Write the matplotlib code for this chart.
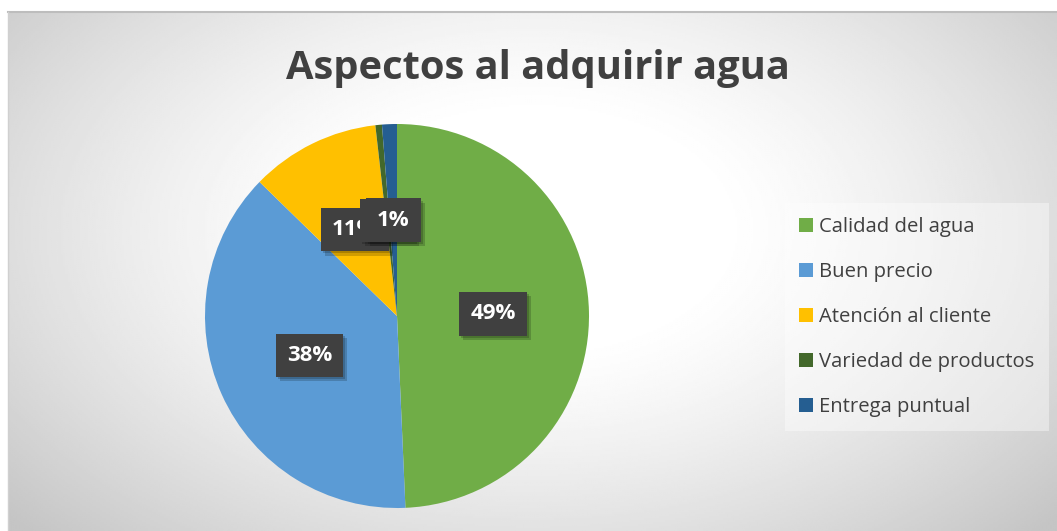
import numpy as np
import matplotlib
matplotlib.use('Agg')
import matplotlib.pyplot as plt
import matplotlib.patheffects as pe

# Data
categories = ["Calidad del agua", "Buen precio", "Atención al cliente",
              "Variedad de productos", "Entrega puntual"]
shares = [49.3, 38.0, 10.9, 0.55, 1.25]
colors = ["#70AD47", "#5B9BD5", "#FFC000", "#43682B", "#255E91"]
title_text = "Aspectos al adquirir agua"

plt.rcParams['font.family'] = ['Open Sans', 'DejaVu Sans']

W, H = 1057, 531
fig = plt.figure(figsize=(W / 100, H / 100), dpi=100, facecolor='white')

# Chart area background: radial grey gradient (Excel style)
bg_left, bg_top = 8, 12
bg = fig.add_axes([bg_left / W, 0, 1 - bg_left / W, (H - bg_top) / H])
ny, nx = 260, 520
yy, xx = np.mgrid[0:1:ny * 1j, 0:1:nx * 1j]
d = np.sqrt(((xx - 0.5) / 0.5) ** 2 + ((yy - 0.42) / 0.62) ** 2)
shade = 1 - 0.23 * np.clip((d - 0.35) / 1.0, 0, 1) ** 1.3
bg.imshow(shade, cmap='gray', vmin=0, vmax=1, aspect='auto',
          extent=[0, 1, 0, 1], origin='upper')
bg.set_xlim(0, 1)
bg.set_ylim(0, 1)
bg.axis('off')
fig.lines.append(plt.Line2D([bg_left / W, 1], [1 - bg_top / H] * 2,
                            transform=fig.transFigure, color='#bdbdbd', lw=1.5))
fig.lines.append(plt.Line2D([bg_left / W] * 2, [0, 1 - bg_top / H],
                            transform=fig.transFigure, color='#d0d0d0', lw=1))

# Pie
cx, cy, r = 397, 316, 192
ax = fig.add_axes([(cx - r) / W, (H - cy - r) / H, 2 * r / W, 2 * r / H])
ax.set_facecolor('none')
wedges, _ = ax.pie(shares, colors=colors, startangle=90, counterclock=False,
                   radius=1, wedgeprops=dict(linewidth=0))
ax.set_xlim(-1, 1)
ax.set_ylim(-1, 1)
ax.axis('off')

# Data labels: dark boxes, white bold text, soft drop shadow
# (the small slices' labels sit on top of each other, as in the original)
for i, w in enumerate(wedges):
    mid = np.deg2rad((w.theta1 + w.theta2) / 2)
    x, y = 0.5 * np.cos(mid), 0.5 * np.sin(mid)
    t = ax.text(x, y, "{:.0f}%".format(shares[i]), ha='center', va='center',
                color='white', fontsize=16, fontweight='bold', zorder=5 + i,
                bbox=dict(boxstyle='square,pad=0.5', facecolor='#404040',
                          edgecolor='none'))
    t.get_bbox_patch().set_path_effects([
        pe.SimplePatchShadow(offset=(3, -3), shadow_rgbFace='black', alpha=0.18),
        pe.SimplePatchShadow(offset=(1.5, -1.5), shadow_rgbFace='black', alpha=0.18),
        pe.Normal()])

# Title
fig.text(538 / W, 1 - 68 / H, title_text, ha='center', va='center',
         fontsize=28.7, fontweight='bold', color='#404040')

# Legend
leg = fig.legend(wedges, categories, loc='center left',
                 bbox_to_anchor=(785 / W, 1 - 317 / H), frameon=True,
                 fontsize=14.6, labelcolor='#404040', handlelength=0.7,
                 handleheight=0.7, handletextpad=0.3, labelspacing=1.23,
                 borderpad=0.7, borderaxespad=0)
frame = leg.get_frame()
frame.set_facecolor('white')
frame.set_alpha(0.4)
frame.set_edgecolor('none')
frame.set_boxstyle('square,pad=0')

fig.savefig("out.png", dpi=100, facecolor='white')
